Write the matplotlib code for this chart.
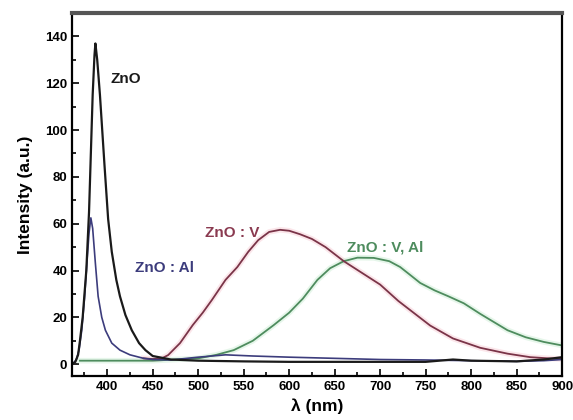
import matplotlib
matplotlib.use('Agg')
import matplotlib.pyplot as plt
from matplotlib.ticker import MultipleLocator

plt.rcParams['font.family'] = ['Liberation Sans', 'DejaVu Sans']
plt.rcParams['font.weight'] = 'bold'

# ZnO
x_zno = [363, 365, 368, 370, 373, 377, 380, 382, 384, 386, 387, 389, 392, 394.5, 397, 401,
         405, 410, 414, 420, 427, 435, 442, 450, 470, 500, 550, 600, 650, 700, 750, 780,
         800, 850, 880, 900]
y_zno = [0.5, 1, 4, 10, 20, 40, 65, 90, 115, 132, 137, 130, 115, 100, 85, 62,
         48, 36, 29, 21, 14.5, 9, 6, 3.5, 2, 1.5, 1.2, 1, 1, 1, 1, 2,
         1.5, 1.2, 2, 3]

# ZnO : Al
x_al = [363, 366, 369, 372, 375, 378, 380, 382, 384, 387, 390, 394, 398, 405, 414, 425,
        440, 450, 470, 500, 530, 560, 600, 650, 700, 750, 800, 850, 880, 900]
y_al = [0.5, 2, 6, 14.5, 28, 45, 56, 62.5, 58, 43, 29, 20, 14.5, 9, 6, 4,
        2.5, 2, 1.8, 3, 4, 3.5, 3, 2.5, 2, 1.8, 1.5, 1.2, 1.5, 2]

# ZnO : V
x_v = [440, 450, 460, 467, 480, 494, 505, 515, 530, 543, 555, 566, 578, 590, 600, 612,
       625, 640, 660, 680, 700, 720, 740, 755, 780, 810, 840, 865, 885, 900]
y_v = [2.5, 2.2, 2.5, 3.9, 9, 16.7, 22, 27.4, 36, 41.5, 48, 53, 56.5, 57.4, 57, 55.5,
       53.5, 50, 44, 39, 34, 27, 21, 16.5, 11, 7, 4.5, 3, 2.5, 2.2]

# ZnO : V, Al
x_val = [370, 400, 450, 500, 520, 539, 560, 583, 600, 615, 631, 645, 660, 675, 693, 710,
         722, 735, 744, 760, 775, 792, 810, 825, 840, 860, 880, 900]
y_val = [1.5, 1.5, 1.5, 2.5, 4, 6, 10, 16.7, 22, 28, 36, 41, 44, 45.5, 45.4, 44,
         41.5, 37.5, 34.7, 31.5, 29, 26, 21.5, 18, 14.5, 11.5, 9.5, 8]

fig = plt.figure(figsize=(5.73, 4.2), dpi=100)
ax = fig.add_axes([0.126, 0.105, 0.855, 0.864])

# faint halos round the coloured curves
ax.plot(x_v, y_v, color='#f4b8c4', lw=4, alpha=0.35)
ax.plot(x_val, y_val, color='#b8e6c4', lw=4, alpha=0.35)
ax.plot(x_val, y_val, color='#4e8c5e', lw=1.3)
ax.plot(x_v, y_v, color='#7a3448', lw=1.3)
ax.plot(x_al, y_al, color='#3c3c7c', lw=1.2)
ax.plot(x_zno, y_zno, color='#1a1a1a', lw=1.6)

ax.text(420, 122, 'ZnO', color='#1a1a1a', fontsize=11, ha='center', va='center')
ax.text(463, 41, 'ZnO : Al', color='#3c3c7c', fontsize=11, ha='center', va='center')
ax.text(537, 56, 'ZnO : V', color='#8a3a50', fontsize=11, ha='center', va='center')
ax.text(705, 50, 'ZnO : V, Al', color='#4e8c5e', fontsize=11, ha='center', va='center')

ax.set_xlim(361.5, 900)
ax.set_ylim(-5, 150)
ax.xaxis.set_major_locator(MultipleLocator(50))
ax.xaxis.set_minor_locator(MultipleLocator(25))
ax.yaxis.set_major_locator(MultipleLocator(20))
ax.yaxis.set_minor_locator(MultipleLocator(10))
ax.tick_params(which='both', direction='in', labelsize=9.5, width=1.2)
ax.tick_params(which='major', length=5)
ax.tick_params(which='minor', length=3)
ax.set_xlabel('λ (nm)', fontsize=12.5, fontweight='bold', labelpad=4)
ax.set_ylabel('Intensity (a.u.)', fontsize=12.5, fontweight='bold', labelpad=9)

for s in ['left', 'bottom', 'right']:
    ax.spines[s].set_linewidth(1.6)
ax.spines['top'].set_linewidth(3)
ax.spines['top'].set_color('#555555')

fig.savefig('out.png', dpi=100)
